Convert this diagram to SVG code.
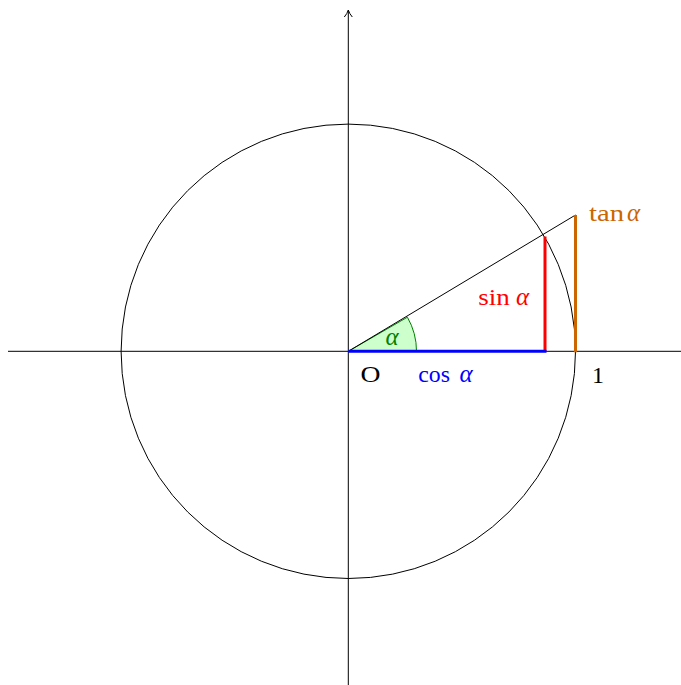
<svg xmlns="http://www.w3.org/2000/svg" width="681" height="685" viewBox="0 0 681 685">
<style>
  .thin { fill: none; stroke: #000; stroke-width: 1; }
  .thick { fill: none; stroke-width: 3; stroke-linecap: butt; }
  text { font-family: "Liberation Serif", "DejaVu Serif", serif; font-size: 24px; }
  .it { font-style: italic; font-size: 25px; }
</style>
<rect width="681" height="685" fill="#ffffff"/>
<g id="connectors">
  <line id="x-axis" class="thin" x1="8" y1="351.3" x2="681" y2="351.3"/>
  <line id="y-axis" class="thin" x1="348.3" y1="685" x2="348.3" y2="10.5"/>
  <path id="y-arrow" class="thin" d="M344.3,17 Q347.3,13.5 348.3,10 Q349.3,13.5 352.3,17"/>
</g>
<g id="unit-circle">
  <circle class="thin" cx="348.3" cy="351.3" r="227.2"/>
</g>
<g id="angle-wedge">
  <path d="M348.3,351.3 L416.5,351.3 A68.2,68.2 0 0 0 407.4,317.2 Z" fill="#ccffcc" stroke="#008000" stroke-width="1"/>
  <text x="385.5" y="345" fill="#008000" class="it">α</text>
</g>
<g id="ray">
  <line class="thin" x1="348.3" y1="351.3" x2="575.5" y2="215"/>
</g>
<g id="sin">
  <line class="thick" stroke="#ff0000" x1="545" y1="351.3" x2="545" y2="236.5"/>
  <text x="478.3" y="305" fill="#ff0000" textLength="31.5" lengthAdjust="spacingAndGlyphs">sin</text>
  <text x="516" y="305" fill="#ff0000" class="it">α</text>
</g>
<g id="cos">
  <line class="thick" stroke="#0000ff" x1="348.3" y1="351.3" x2="546.5" y2="351.3"/>
  <text x="418.3" y="382" fill="#0000ff" textLength="31.7" lengthAdjust="spacingAndGlyphs">cos</text>
  <text x="459.5" y="382" fill="#0000ff" class="it">α</text>
</g>
<g id="tan">
  <line class="thick" stroke="#cc6600" x1="575.5" y1="352.3" x2="575.5" y2="215"/>
  <text x="589" y="221" fill="#cc6600" textLength="35" lengthAdjust="spacingAndGlyphs">tan</text>
  <text x="627" y="221" fill="#cc6600" class="it">α</text>
</g>
<g id="origin-label">
  <text x="360.5" y="382" textLength="20" lengthAdjust="spacingAndGlyphs">O</text>
</g>
<g id="one-label">
  <text x="592" y="383">1</text>
</g>
</svg>
